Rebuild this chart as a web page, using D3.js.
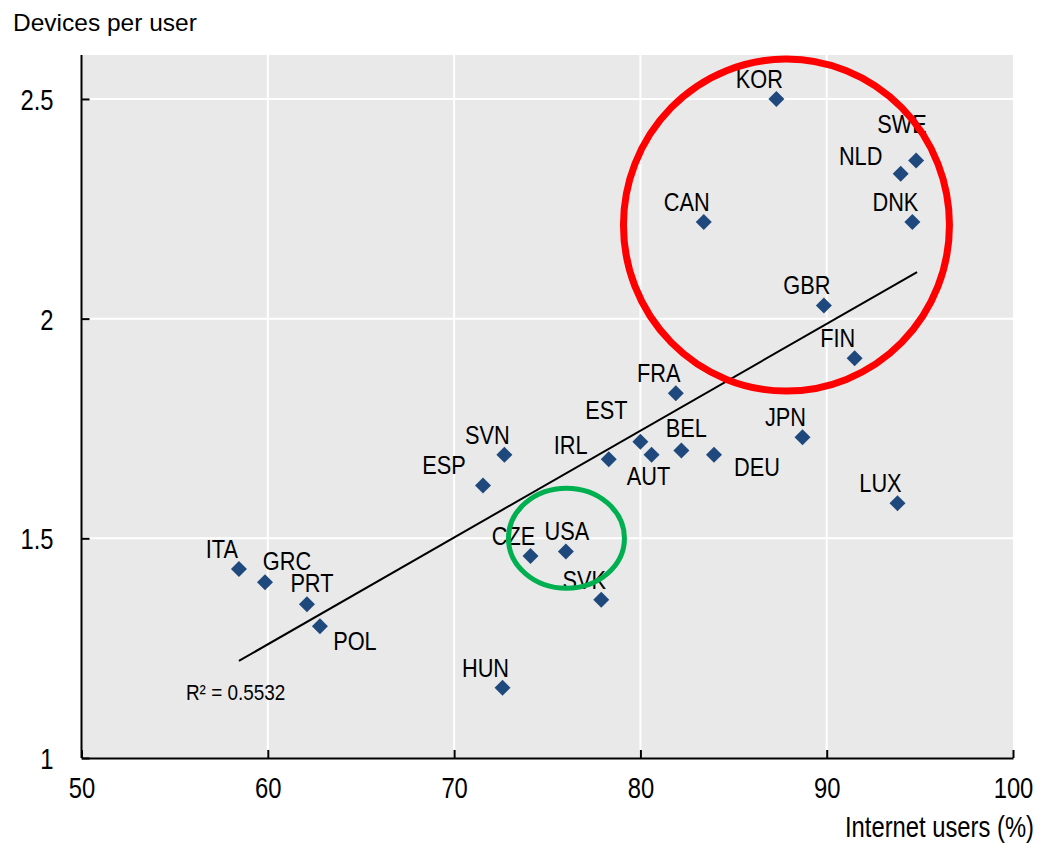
<!DOCTYPE html>
<html>
<head>
<meta charset="utf-8">
<script src="https://cdn.jsdelivr.net/npm/d3@7"></script>
<style>
html,body{margin:0;padding:0;background:#fff;}
svg{display:block;}
text{font-family:"Liberation Sans",Arial,sans-serif;}
</style>
</head>
<body>
<svg id="chart" width="1041" height="848"></svg>
<script>
// ---- data ----
const countries = ["ITA","GRC","PRT","POL","HUN","ESP","SVN","CZE","USA","SVK","IRL","EST","AUT","BEL","DEU","FRA","JPN","LUX","FIN","GBR","CAN","KOR","NLD","SWE","DNK"];
const internetUsers = [58.45,59.85,62.1,62.8,72.6,71.55,72.7,74.1,76.0,77.9,78.3,80.0,80.6,82.2,83.95,81.9,88.7,93.8,91.5,89.85,83.4,87.3,93.97,94.8,94.6];
const devicesPerUser = [1.43,1.40,1.35,1.30,1.16,1.62,1.69,1.46,1.47,1.36,1.68,1.72,1.69,1.70,1.69,1.83,1.73,1.58,1.91,2.03,2.22,2.50,2.33,2.36,2.22];
const xTicks = [50,60,70,80,90,100];
const yTicks = [1,1.5,2,2.5];
const yTickLabels = ["1","1.5","2","2.5"];
const trendX = [58.45,94.85];
const trendY = [1.221,2.106];
const rSquaredLabel = "R² = 0.5532";
const xTitle = "Internet users (%)";
const yTitle = "Devices per user";
// highlight ellipses (centers in data units)
const highlightCx = [87.84,76.03];
const highlightCy = [2.213,1.5];

// ---- layout (not data) ----
const labelOffsets = {
  default:[-17,-11],
  USA:[1,-11], ESP:[-39,-12], EST:[-34,-23], IRL:[-38,-5], BEL:[5,-13],
  NLD:[-40,-9], SWE:[-14,-27], GRC:[22,-12], PRT:[5,-12], POL:[35,24],
  DEU:[43,21], AUT:[-3,30]
};
const highlightStyle = [
  {rx:163, ry:166, color:"#ff0000", width:7},
  {rx:58, ry:50, color:"#00b050", width:5}
];

// condense text horizontally (emulates a narrow face)
function condense(sel, f){
  sel.each(function(){
    const w = this.getComputedTextLength();
    d3.select(this).attr("textLength", w*f).attr("lengthAdjust","spacingAndGlyphs");
  });
}

const svg = d3.select("#chart");
const L=81.5, R=1013, T=55, B=758;
const x = d3.scaleLinear().domain([50,100]).range([L,R]);
const y = d3.scaleLinear().domain([1,2.6]).range([B,T]);

// background
svg.append("rect").attr("x",L).attr("y",T).attr("width",R-L).attr("height",B-T).attr("fill","#e9e9e9");

// grid
svg.append("g").selectAll("line").data(xTicks.filter(d=>d>50&&d<100)).join("line")
  .attr("x1",d=>x(d)).attr("x2",d=>x(d)).attr("y1",T).attr("y2",B)
  .attr("stroke","#fff").attr("stroke-width",2);
svg.append("g").selectAll("line").data(yTicks.filter(d=>d>1)).join("line")
  .attr("x1",L).attr("x2",R).attr("y1",d=>y(d)).attr("y2",d=>y(d))
  .attr("stroke","#fff").attr("stroke-width",2);

// axes
const xAxis = d3.axisBottom(x).tickValues(xTicks).tickSizeInner(-8).tickSizeOuter(0).tickPadding(19).tickFormat(d3.format("d"));
const gx = svg.append("g").attr("transform",`translate(0,${B})`).call(xAxis);
gx.attr("font-family",null).attr("font-size",null);
gx.select(".domain").attr("stroke","#000").attr("stroke-width",2);
gx.selectAll(".tick line").attr("stroke","#000").attr("stroke-width",2);
gx.selectAll("text").attr("font-size",29).attr("fill","#000").attr("dy","0.71em").call(condense,0.82);

const yAxis = d3.axisLeft(y).tickValues(yTicks).tickSizeInner(-8).tickSizeOuter(0).tickPadding(28).tickFormat((d,i)=>yTickLabels[i]);
const gy = svg.append("g").attr("transform",`translate(${L},0)`).call(yAxis);
gy.attr("font-family",null).attr("font-size",null);
gy.select(".domain").attr("stroke","#000").attr("stroke-width",2).attr("d",`M0,${T}V${B}`);
gy.selectAll(".tick line").attr("stroke","#000").attr("stroke-width",2);
gy.selectAll("text").attr("font-size",29).attr("fill","#000").attr("dy","0.36em").call(condense,0.82);

// titles
svg.append("text").attr("x",13).attr("y",31)
  .attr("font-size",24.5).attr("fill","#000").text(yTitle);
svg.append("text").attr("x",1034).attr("y",837).attr("text-anchor","end")
  .attr("font-size",29).attr("fill","#000").text(xTitle).call(condense,0.82);

// trend line
const line = d3.line().x(d=>x(d[0])).y(d=>y(d[1]));
svg.append("path").datum(trendX.map((v,i)=>[v,trendY[i]])).attr("d",line)
  .attr("fill","none").attr("stroke","#000").attr("stroke-width",2);
svg.append("text").attr("x",x(trendX[0])-53).attr("y",y(trendY[0])+39)
  .attr("font-size",21.5).attr("fill","#000").text(rSquaredLabel).call(condense,0.88);

// points
const pts = countries.map((c,i)=>({c, x:internetUsers[i], y:devicesPerUser[i]}));
const diamond = d3.symbol().type(d3.symbolSquare).size(128);
svg.append("g").selectAll("path").data(pts).join("path")
  .attr("d",diamond)
  .attr("transform",d=>`translate(${x(d.x)},${y(d.y)}) rotate(45)`)
  .attr("fill","#1f497d");

// labels
svg.append("g").selectAll("text").data(pts).join("text")
  .attr("x",d=>x(d.x)+(labelOffsets[d.c]||labelOffsets.default)[0])
  .attr("y",d=>y(d.y)+(labelOffsets[d.c]||labelOffsets.default)[1])
  .attr("text-anchor","middle").attr("font-size",26.5).attr("fill","#000")
  .text(d=>d.c).call(condense,0.82);

// highlight ellipses
svg.append("g").selectAll("ellipse").data(highlightCx.map((v,i)=>({cx:v, cy:highlightCy[i], s:highlightStyle[i]}))).join("ellipse")
  .attr("cx",d=>x(d.cx)).attr("cy",d=>y(d.cy)).attr("rx",d=>d.s.rx).attr("ry",d=>d.s.ry)
  .attr("fill","none").attr("stroke",d=>d.s.color).attr("stroke-width",d=>d.s.width);
</script>
</body>
</html>
